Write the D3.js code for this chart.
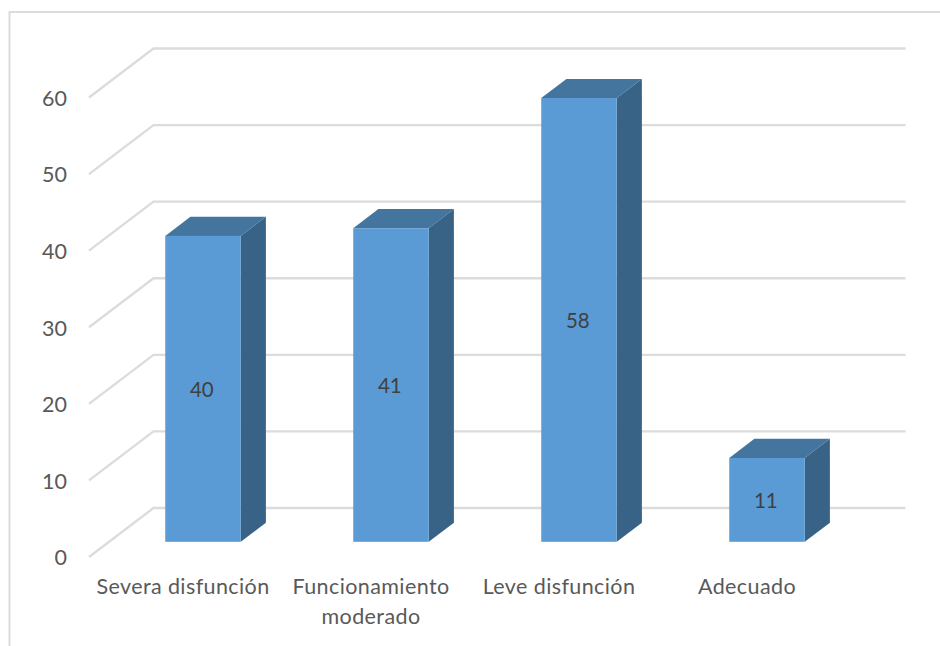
<!DOCTYPE html>
<html>
<head>
<meta charset="utf-8">
<script src="https://cdn.jsdelivr.net/npm/d3@7"></script>
<style>
  html, body { margin: 0; padding: 0; background: #fff; overflow: hidden; }
  svg { display: block; }
  text { font-family: Lato, "Open Sans", sans-serif; }
</style>
</head>
<body>
<svg id="chart" width="940" height="646"></svg>
<script>
const categories = ["Severa disfunción", "Funcionamiento moderado", "Leve disfunción", "Adecuado"];
const values = [40, 41, 58, 11];
const yTicks = [0, 10, 20, 30, 40, 50, 60];

const svg = d3.select("#chart");

// Front edge of the floor; the back wall sits up and to the right of it.
const y = d3.scaleLinear().domain([0, 60]).range([557, 97.5]);
const x = d3.scaleBand().domain(categories).range([89, 841]);
const depthX = 64.5, depthY = -49;
const barInset = 0.31, barDepth = 0.39, barFraction = 75.5 / 188;

const gridColor = "#DCDCDC", textColor = "#595959";

// Chart frame: only the top and left edges fall inside the page.
svg.append("path")
  .attr("d", "M9.5,646V12H940")
  .attr("fill", "none").attr("stroke", gridColor).attr("stroke-width", 2);

// Gridlines run across the side wall, then along the back wall.
svg.append("g").selectAll("path").data(yTicks).join("path")
  .attr("d", d => {
    const p = d3.path();
    p.moveTo(x.range()[0], y(d));
    p.lineTo(x.range()[0] + depthX, y(d) + depthY);
    p.lineTo(x.range()[1] + depthX, y(d) + depthY);
    return p.toString();
  })
  .attr("fill", "none").attr("stroke", gridColor).attr("stroke-width", 2.4);

// Value axis labels
const yAxis = svg.append("g")
  .attr("transform", "translate(73,0)")
  .call(d3.axisLeft(y).tickValues(yTicks).tickSize(0).tickPadding(6));
yAxis.select(".domain").remove();
yAxis.selectAll("text")
  .attr("fill", textColor)
  .attr("dy", "0.36em")
  .style("font-size", "21.5px").style("font-family", "Lato, sans-serif");

// Category axis labels, with the long name broken over two lines
const xAxis = svg.append("g")
  .attr("transform", "translate(0,571)")
  .call(d3.axisBottom(x).tickSize(0).tickPadding(0));
xAxis.select(".domain").remove();
xAxis.selectAll("text").each(function (d) {
  const t = d3.select(this).text(null)
    .attr("fill", textColor).attr("y", 0).attr("dy", null)
    .style("font-size", "21.5px").style("letter-spacing", "0.4px")
    .style("font-family", "Lato, sans-serif");
  const lines = d === "Funcionamiento moderado" ? ["Funcionamiento", "moderado"] : [d];
  lines.forEach((line, i) => {
    t.append("tspan").attr("x", 0).attr("y", 23 + i * 30).text(line);
  });
});

// Three-dimensional columns: front, top and side faces
const data = categories.map((c, i) => ({ c, v: values[i] }));
const faceW = x.bandwidth() * barFraction;
const front = d => ({
  x0: x(d.c) + x.bandwidth() / 2 - faceW / 2 + depthX * barInset,
  y0: y(d.v) + depthY * barInset + 0.4,
  y1: y(0) + depthY * barInset
});
const dx = depthX * barDepth, dy = depthY * barDepth;
const bars = svg.append("g").selectAll("g").data(data).join("g");

bars.append("polygon")
  .attr("fill", "#44759F")
  .attr("points", d => {
    const f = front(d), x1 = f.x0 + faceW;
    return [[f.x0, f.y0], [x1, f.y0], [x1 + dx, f.y0 + dy], [f.x0 + dx, f.y0 + dy]].join(" ");
  });
bars.append("polygon")
  .attr("fill", "#386387")
  .attr("points", d => {
    const f = front(d), x1 = f.x0 + faceW;
    return [[x1, f.y0], [x1 + dx, f.y0 + dy], [x1 + dx, f.y1 + dy], [x1, f.y1]].join(" ");
  });
bars.append("rect")
  .attr("fill", "#5B9BD5")
  .attr("x", d => front(d).x0)
  .attr("y", d => front(d).y0)
  .attr("width", faceW)
  .attr("height", d => front(d).y1 - front(d).y0);

// Value labels centred on each front face
bars.append("text")
  .attr("x", d => front(d).x0 + faceW / 2 - 1.2)
  .attr("y", d => (front(d).y0 + front(d).y1) / 2)
  .attr("dy", "0.38em")
  .attr("text-anchor", "middle")
  .attr("fill", "#404040")
  .style("font-size", "20.5px")
  .text(d => d.v);
</script>
</body>
</html>
